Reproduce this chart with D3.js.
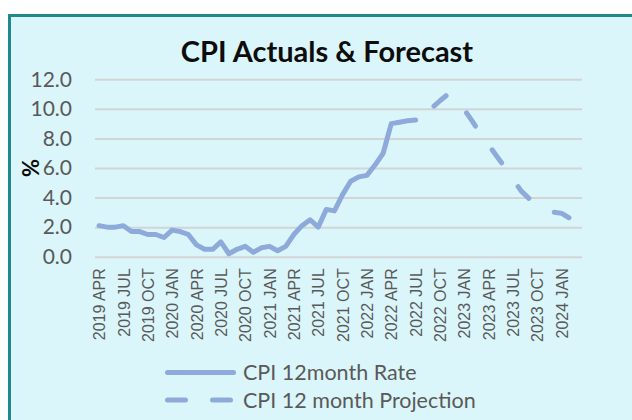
<!DOCTYPE html>
<html>
<head>
<meta charset="utf-8">
<script src="https://cdn.jsdelivr.net/npm/d3@7/dist/d3.min.js"></script>
<style>
  html, body { margin: 0; padding: 0; background: #fff; }
  svg { display: block; }
</style>
</head>
<body>
<div id="chart"></div>
<script>
// monthly categories, 2019 APR .. 2024 MAR
var months = [
  "2019 APR","2019 MAY","2019 JUN","2019 JUL","2019 AUG","2019 SEP","2019 OCT","2019 NOV","2019 DEC",
  "2020 JAN","2020 FEB","2020 MAR","2020 APR","2020 MAY","2020 JUN","2020 JUL","2020 AUG","2020 SEP","2020 OCT","2020 NOV","2020 DEC",
  "2021 JAN","2021 FEB","2021 MAR","2021 APR","2021 MAY","2021 JUN","2021 JUL","2021 AUG","2021 SEP","2021 OCT","2021 NOV","2021 DEC",
  "2022 JAN","2022 FEB","2022 MAR","2022 APR","2022 MAY","2022 JUN","2022 JUL","2022 AUG","2022 SEP","2022 OCT","2022 NOV","2022 DEC",
  "2023 JAN","2023 FEB","2023 MAR","2023 APR","2023 MAY","2023 JUN","2023 JUL","2023 AUG","2023 SEP","2023 OCT","2023 NOV","2023 DEC",
  "2024 JAN","2024 FEB","2024 MAR"
];

var tickLabels = [
  "2019 APR","2019 JUL","2019 OCT","2020 JAN","2020 APR","2020 JUL","2020 OCT",
  "2021 JAN","2021 APR","2021 JUL","2021 OCT","2022 JAN","2022 APR","2022 JUL",
  "2022 OCT","2023 JAN","2023 APR","2023 JUL","2023 OCT","2024 JAN"
];

var yTicks = [0, 2, 4, 6, 8, 10, 12];

// CPI 12month Rate, 2019 APR .. 2022 JUL
var cpiRate = [
  2.1, 2.0, 2.0, 2.1, 1.7, 1.7, 1.5, 1.5, 1.3,
  1.8, 1.7, 1.5, 0.8, 0.5, 0.5, 1.0, 0.2, 0.5, 0.7, 0.3, 0.6,
  0.7, 0.4, 0.7, 1.5, 2.1, 2.5, 2.0, 3.2, 3.1, 4.2, 5.1, 5.4,
  5.5, 6.2, 7.0, 9.0, 9.1, 9.2, 9.25
];

// CPI 12 month Projection, 2022 JUL .. 2024 MAR
var cpiProjection = [
  9.25, 9.6, 10.05, 10.55, 11.0, 10.5, 9.95, 9.15, 8.3, 7.55, 6.8,
  6.05, 5.25, 4.45, 3.92, 3.6, 3.28, 3.02, 2.93, 2.6, 2.35
];

(function() {
  var W = 632, H = 420;
  var plotL = 95, plotR = 582, plotT = 79.3, plotB = 256.7;
  var lineColor = "#8eaadb";
  var textGray = "#595959";
  var font = "Lato, Carlito, 'Open Sans', sans-serif";

  var svg = d3.select("#chart").append("svg")
    .attr("width", W).attr("height", H);

  svg.append("rect").attr("width", W).attr("height", H).attr("fill", "#fff");

  // chart area box
  svg.append("rect")
    .attr("x", 9.5).attr("y", 15.5)
    .attr("width", 660).attr("height", 440)
    .attr("fill", "#dbf6fa")
    .attr("stroke", "#1f8a8a")
    .attr("stroke-width", 3);

  var x = d3.scalePoint().domain(months).range([plotL, plotR]).padding(0.5);
  var y = d3.scaleLinear().domain([0, 12]).range([plotB, plotT]);

  // y axis + gridlines
  var yAxis = svg.append("g")
    .attr("transform", "translate(" + plotL + ",0)")
    .call(d3.axisLeft(y).tickValues(yTicks).tickSize(-(plotR - plotL)).tickPadding(23)
      .tickFormat(d3.format(".1f")));
  yAxis.select(".domain").remove();
  yAxis.selectAll(".tick line").attr("stroke", "#d2d4d6").attr("stroke-width", 2);
  yAxis.selectAll(".tick text")
    .attr("fill", textGray)
    .style("font-family", font)
    .style("font-size", "21px");

  // x axis labels
  var xAxis = svg.append("g")
    .attr("transform", "translate(0," + plotB + ")")
    .call(d3.axisBottom(x).tickValues(tickLabels).tickSize(0));
  xAxis.select(".domain").remove();
  xAxis.selectAll(".tick text")
    .attr("transform", "rotate(-90)")
    .attr("x", -11.5).attr("y", 0).attr("dy", "0.35em")
    .attr("text-anchor", "end")
    .attr("fill", textGray)
    .style("font-family", "'Liberation Sans', Arial, sans-serif")
    .style("font-size", "16px");

  // title
  svg.append("text")
    .attr("x", 327).attr("y", 62)
    .attr("text-anchor", "middle")
    .style("font-family", font)
    .style("font-weight", "bold")
    .style("font-size", "29px")
    .attr("fill", "#0d0d0d")
    .text("CPI Actuals & Forecast");

  // y axis title
  svg.append("text")
    .attr("transform", "translate(31,168) rotate(-90)")
    .attr("text-anchor", "middle")
    .attr("dy", "0.35em")
    .style("font-family", font)
    .style("font-weight", "bold")
    .style("font-size", "22px")
    .attr("fill", "#0d0d0d")
    .text("%");

  var line = d3.line()
    .x(function(d) { return x(d.m); })
    .y(function(d) { return y(d.v); });

  var actual = cpiRate.map(function(v, i) { return { m: months[i], v: v }; });
  var offset = cpiRate.length - 1;
  var proj = cpiProjection.map(function(v, i) { return { m: months[offset + i], v: v }; });

  svg.append("path").datum(proj)
    .attr("d", line)
    .attr("fill", "none")
    .attr("stroke", lineColor)
    .attr("stroke-width", 5)
    .attr("stroke-linecap", "round")
    .attr("stroke-linejoin", "round")
    .attr("stroke-dasharray", "16,29")
    .attr("stroke-dashoffset", 22);

  svg.append("path").datum(actual)
    .attr("d", line)
    .attr("fill", "none")
    .attr("stroke", lineColor)
    .attr("stroke-width", 5)
    .attr("stroke-linecap", "round")
    .attr("stroke-linejoin", "round");

  // legend
  var legend = [
    { name: "CPI 12month Rate", dash: null, y: 372.5 },
    { name: "CPI 12 month Projection", dash: "18,27", y: 400 }
  ];
  var lg = svg.append("g");
  legend.forEach(function(d) {
    lg.append("line")
      .attr("x1", 167.5).attr("x2", d.dash ? 230.5 : 233.5)
      .attr("y1", d.y).attr("y2", d.y)
      .attr("stroke", lineColor)
      .attr("stroke-width", 5)
      .attr("stroke-linecap", "round")
      .attr("stroke-dasharray", d.dash);
    lg.append("text")
      .attr("x", 243).attr("y", d.y)
      .attr("dy", "0.35em")
      .attr("fill", textGray)
      .style("font-family", font)
      .style("font-size", "21.5px")
      .text(d.name);
  });
})();
</script>
</body>
</html>
